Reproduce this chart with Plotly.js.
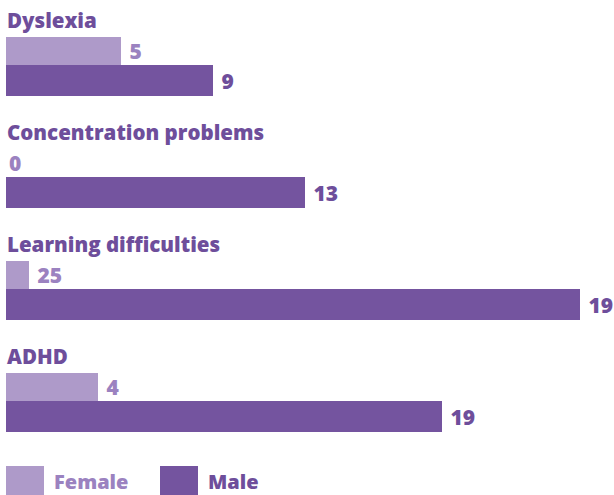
<!DOCTYPE html>
<html>
<head>
<meta charset="utf-8">
<script src="https://cdn.plot.ly/plotly-3.0.1.min.js"></script>
<style>
  html, body { margin: 0; padding: 0; background: #ffffff; }
  #chart { width: 614px; height: 495px; }
</style>
</head>
<body>
<div id="chart"></div>
<script>
// ---- data ----
const categories = ['Dyslexia', 'Concentration problems', 'Learning difficulties', 'ADHD'];
const seriesNames = ['Female', 'Male'];
// bar lengths (as drawn)
const femaleValues = [11.5, 0, 2.3, 9.2];
const maleValues = [20.7, 29.9, 57.4, 43.6];
// value labels printed next to bars
const femaleLabels = ['5', '0', '25', '4'];
const maleLabels = ['9', '13', '19', '19'];

// ---- styles ----
const FEMALE_BAR = '#AE9AC9';
const MALE_BAR = '#74549F';
const FEMALE_TEXT = '#9B82C0';
const MALE_TEXT = '#6E4E9B';
const FONT = '"Open Sans", "Noto Sans", sans-serif';
const W = 800;

function tmpl(vals) {
  return vals.map(v => (v === 0 ? '%{text}' : '\u00a0%{text}'));
}

const traces = [
  {
    type: 'bar', orientation: 'h', name: seriesNames[0],
    y: categories, x: femaleValues,
    text: femaleLabels, texttemplate: tmpl(femaleValues),
    textposition: 'outside', cliponaxis: false, constraintext: 'none',
    outsidetextfont: { family: FONT, size: 21, color: FEMALE_TEXT, weight: W },
    marker: { color: FEMALE_BAR, line: { width: 0 } },
    width: 0.25, offset: -0.25, hoverinfo: 'skip'
  },
  {
    type: 'bar', orientation: 'h', name: seriesNames[1],
    y: categories, x: maleValues,
    text: maleLabels, texttemplate: tmpl(maleValues),
    textposition: 'outside', cliponaxis: false, constraintext: 'none',
    outsidetextfont: { family: FONT, size: 21, color: MALE_TEXT, weight: W },
    marker: { color: MALE_BAR, line: { width: 0 } },
    width: 0.277, offset: 0, hoverinfo: 'skip'
  }
];

const annotations = categories.map(c => ({
  xref: 'paper', x: 0, xanchor: 'left', xshift: -1,
  yref: 'y', y: c, yanchor: 'middle', yshift: 45,
  text: c, showarrow: false,
  font: { family: FONT, size: 20.5, color: MALE_TEXT, weight: W }
}));

// custom legend (large swatches)
const legendColors = [FEMALE_BAR, MALE_BAR];
const legendTextColors = [FEMALE_TEXT, MALE_TEXT];
const legendOffsets = [0, 154];
const shapes = [];
seriesNames.forEach((n, i) => {
  shapes.push({
    type: 'rect', xref: 'paper', yref: 'paper',
    xsizemode: 'pixel', ysizemode: 'pixel', xanchor: 0, yanchor: 0,
    x0: legendOffsets[i], x1: legendOffsets[i] + 38, y0: -9, y1: -40,
    fillcolor: legendColors[i], line: { width: 0 }
  });
  annotations.push({
    xref: 'paper', x: 0, xanchor: 'left', xshift: legendOffsets[i] + 46,
    yref: 'paper', y: 0, yanchor: 'middle', yshift: -24,
    text: n, showarrow: false,
    font: { family: FONT, size: 20, color: legendTextColors[i], weight: W }
  });
});

const layout = {
  width: 614, height: 495,
  margin: { l: 6, r: 0, t: 9, b: 38, pad: 0 },
  paper_bgcolor: '#ffffff', plot_bgcolor: '#ffffff',
  showlegend: false,
  barmode: 'overlay',
  xaxis: { range: [0, 60.8], visible: false, fixedrange: true },
  yaxis: { type: 'category', range: [3.5, -0.5], visible: false, fixedrange: true },
  annotations: annotations,
  shapes: shapes,
  font: { family: FONT }
};

Plotly.newPlot('chart', traces, layout, { staticPlot: true, displayModeBar: false });
</script>
</body>
</html>
